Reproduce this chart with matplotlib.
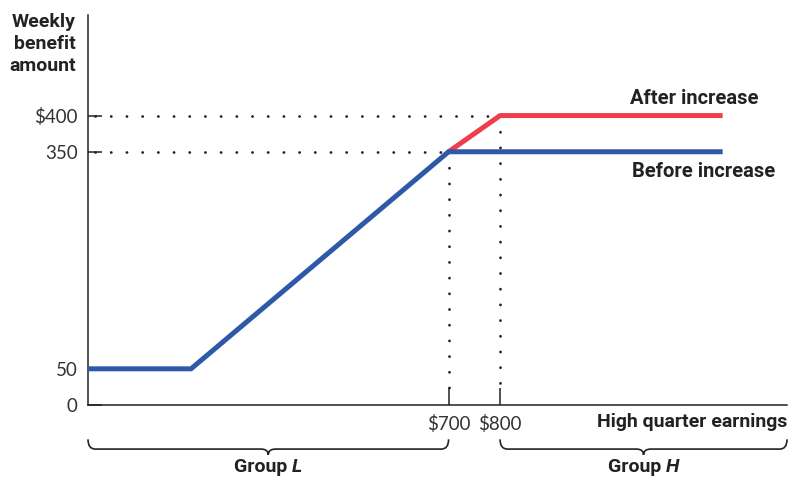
import matplotlib.pyplot as plt
import matplotlib.transforms as mtransforms
from matplotlib.path import Path
from matplotlib.patches import PathPatch

# earnings breakpoints and benefit amounts
before_x = [0, 200, 700, 1232]
before_y = [50, 50, 350, 350]
after_x = [700, 800, 1232]
after_y = [350, 400, 400]

yticks = [0, 50, 350, 400]
ytick_labels = ["0", "50", "350", "$400"]
xticks = [700, 800]
xtick_labels = ["$700", "$800"]

groups = [("Group", "L", 0, 700), ("Group", "H", 800, 1357)]

BLUE = "#2d59a8"
RED = "#ee3e4c"
INK = "#222222"
BOLD = "Roboto"
LIGHT = "Lato"

fig = plt.figure(figsize=(7.89, 4.83), dpi=100)
ax = fig.add_axes([88 / 789, 78 / 483, 699 / 789, 390 / 483])
ax.set_xlim(0, 1357)
ax.set_ylim(0, 539)

for s in ["top", "right"]:
    ax.spines[s].set_visible(False)
for s in ["left", "bottom"]:
    ax.spines[s].set_linewidth(1.1)
    ax.spines[s].set_color(INK)

ax.set_yticks(yticks)
ax.set_yticklabels(ytick_labels, fontfamily=LIGHT, fontsize=13.5, color="#333333")
ax.set_xticks(xticks)
ax.set_xticklabels(xtick_labels, fontfamily=LIGHT, fontsize=13.5, color="#333333")
ax.tick_params(axis="y", direction="in", length=10, width=1.1, color=INK, pad=7.5)
ax.tick_params(axis="x", direction="in", length=12, width=1.1, color=INK, pad=7)

# dotted guide lines
dot = dict(color=INK, lw=2.0, ls=(0, (0.05, 5.6)), dash_capstyle="round", zorder=1)
ax.plot([14, after_x[1]], [after_y[1], after_y[1]], **dot)
ax.plot([14, after_x[0]], [after_y[0], after_y[0]], **dot)
ax.plot([after_x[0], after_x[0]], [after_y[0], 24], **dot)
ax.plot([after_x[1], after_x[1]], [after_y[1], 24], **dot)

ax.plot(after_x, after_y, color=RED, lw=3.6, solid_capstyle="butt", zorder=3)
ax.plot(before_x, before_y, color=BLUE, lw=3.6, solid_capstyle="butt", zorder=4)

bold = dict(fontfamily=BOLD, fontweight="bold", color=INK, clip_on=False)
ax.text(1301, 424, "After increase", ha="right", va="center", fontsize=14.5, **bold)
ax.text(1334, 323, "Before increase", ha="right", va="center", fontsize=14.5, **bold)
ax.text(-24, 542, "Weekly\nbenefit\namount", ha="right", va="top", linespacing=1.28,
        fontsize=14, **bold)
ax.text(1357, -24, "High quarter earnings", ha="right", va="center", fontsize=14, **bold)

# braces under the x-axis
trans = mtransforms.blended_transform_factory(ax.transData, ax.transAxes)
y_top, y_bar, y_tip = -0.088, -0.113, -0.128
r = 14
fig.canvas.draw()
renderer = fig.canvas.get_renderer()
for word, letter, x0, x1 in groups:
    xm = (x0 + x1) / 2
    verts = [
        (x0, y_top), (x0, y_bar), (x0 + r, y_bar),
        (xm - r, y_bar), (xm, y_bar), (xm, y_tip),
        (xm, y_bar), (xm + r, y_bar),
        (x1 - r, y_bar), (x1, y_bar), (x1, y_top),
    ]
    codes = [Path.MOVETO, Path.CURVE3, Path.CURVE3,
             Path.LINETO, Path.CURVE3, Path.CURVE3,
             Path.CURVE3, Path.CURVE3,
             Path.LINETO, Path.CURVE3, Path.CURVE3]
    ax.add_patch(PathPatch(Path(verts, codes), transform=trans, fill=False,
                           lw=1.2, edgecolor=INK, clip_on=False))
    # "Group" in bold, letter in bold italic, centred together under the brace
    t1 = ax.text(xm, -0.16, word + " ", transform=trans, ha="right", va="center",
                 fontsize=14, **bold)
    t2 = ax.text(xm, -0.16, letter, transform=trans, ha="left", va="center",
                 fontsize=14, fontstyle="italic", **bold)
    w1 = t1.get_window_extent(renderer).width
    w2 = t2.get_window_extent(renderer).width
    shift = mtransforms.ScaledTranslation((w1 - w2) / 2 / fig.dpi, 0, fig.dpi_scale_trans)
    t1.set_transform(trans + shift)
    t2.set_transform(trans + shift)

fig.savefig("out.png", dpi=100)
